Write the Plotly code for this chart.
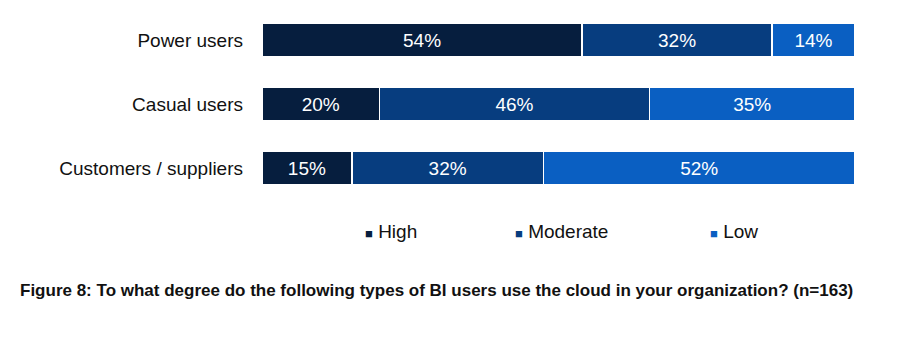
import plotly.graph_objects as go

categories = ["Power users", "Casual users", "Customers / suppliers"]
high = [54, 20, 15]
moderate = [32, 46, 32]
low = [14, 35, 52]
series_names = ["High", "Moderate", "Low"]
colors = ["#061e3e", "#073d7f", "#0a5fc2"]
title = "Figure 8: To what degree do the following types of BI users use the cloud in your organization? (n=163)"

fig = go.Figure()
for name, vals, col in zip(series_names, [high, moderate, low], colors):
    fig.add_trace(go.Bar(
        y=categories, x=vals, name=name, orientation="h",
        marker=dict(color=col, line=dict(color="white", width=1.5)),
        text=[f"{v}%" for v in vals], texttemplate="%{text}",
        textposition="inside", insidetextanchor="middle",
        textfont=dict(color="white", size=19, family="Liberation Sans, Arial"),
        showlegend=False,
    ))

fig.update_layout(
    barmode="stack", barnorm="percent", bargap=0.49,
    width=899, height=337,
    margin=dict(l=262, r=44, t=8, b=137),
    paper_bgcolor="white", plot_bgcolor="white",
    font=dict(family="Liberation Sans, Arial", size=19, color="#111111"),
    uniformtext=dict(minsize=19, mode="show"),
)
fig.update_xaxes(visible=False, range=[0, 100], fixedrange=True)
fig.update_yaxes(autorange="reversed", showgrid=False, showline=False, ticks="",
                 ticklabelstandoff=18, tickfont=dict(size=19, color="#111111"))

legend_x = [363, 513, 708]
for name, col, lx in zip(series_names, colors, legend_x):
    fig.add_annotation(
        xref="paper", yref="paper",
        x=(lx - 262) / (899 - 262 - 44), y=(337 - 137 - 231) / (337 - 8 - 137),
        xanchor="left", yanchor="middle", showarrow=False,
        text=f"<span style='color:{col};font-size:13px'>■</span> {name}",
        font=dict(size=19, color="#111111"),
    )

fig.add_annotation(
    xref="paper", yref="paper",
    x=(18 - 262) / (899 - 262 - 44), y=(337 - 137 - 290) / (337 - 8 - 137),
    xanchor="left", yanchor="middle", showarrow=False,
    text=f"<b>{title}</b>",
    font=dict(size=17, color="#111111", family="Liberation Sans, Arial"),
)

fig.write_html("out.html")
